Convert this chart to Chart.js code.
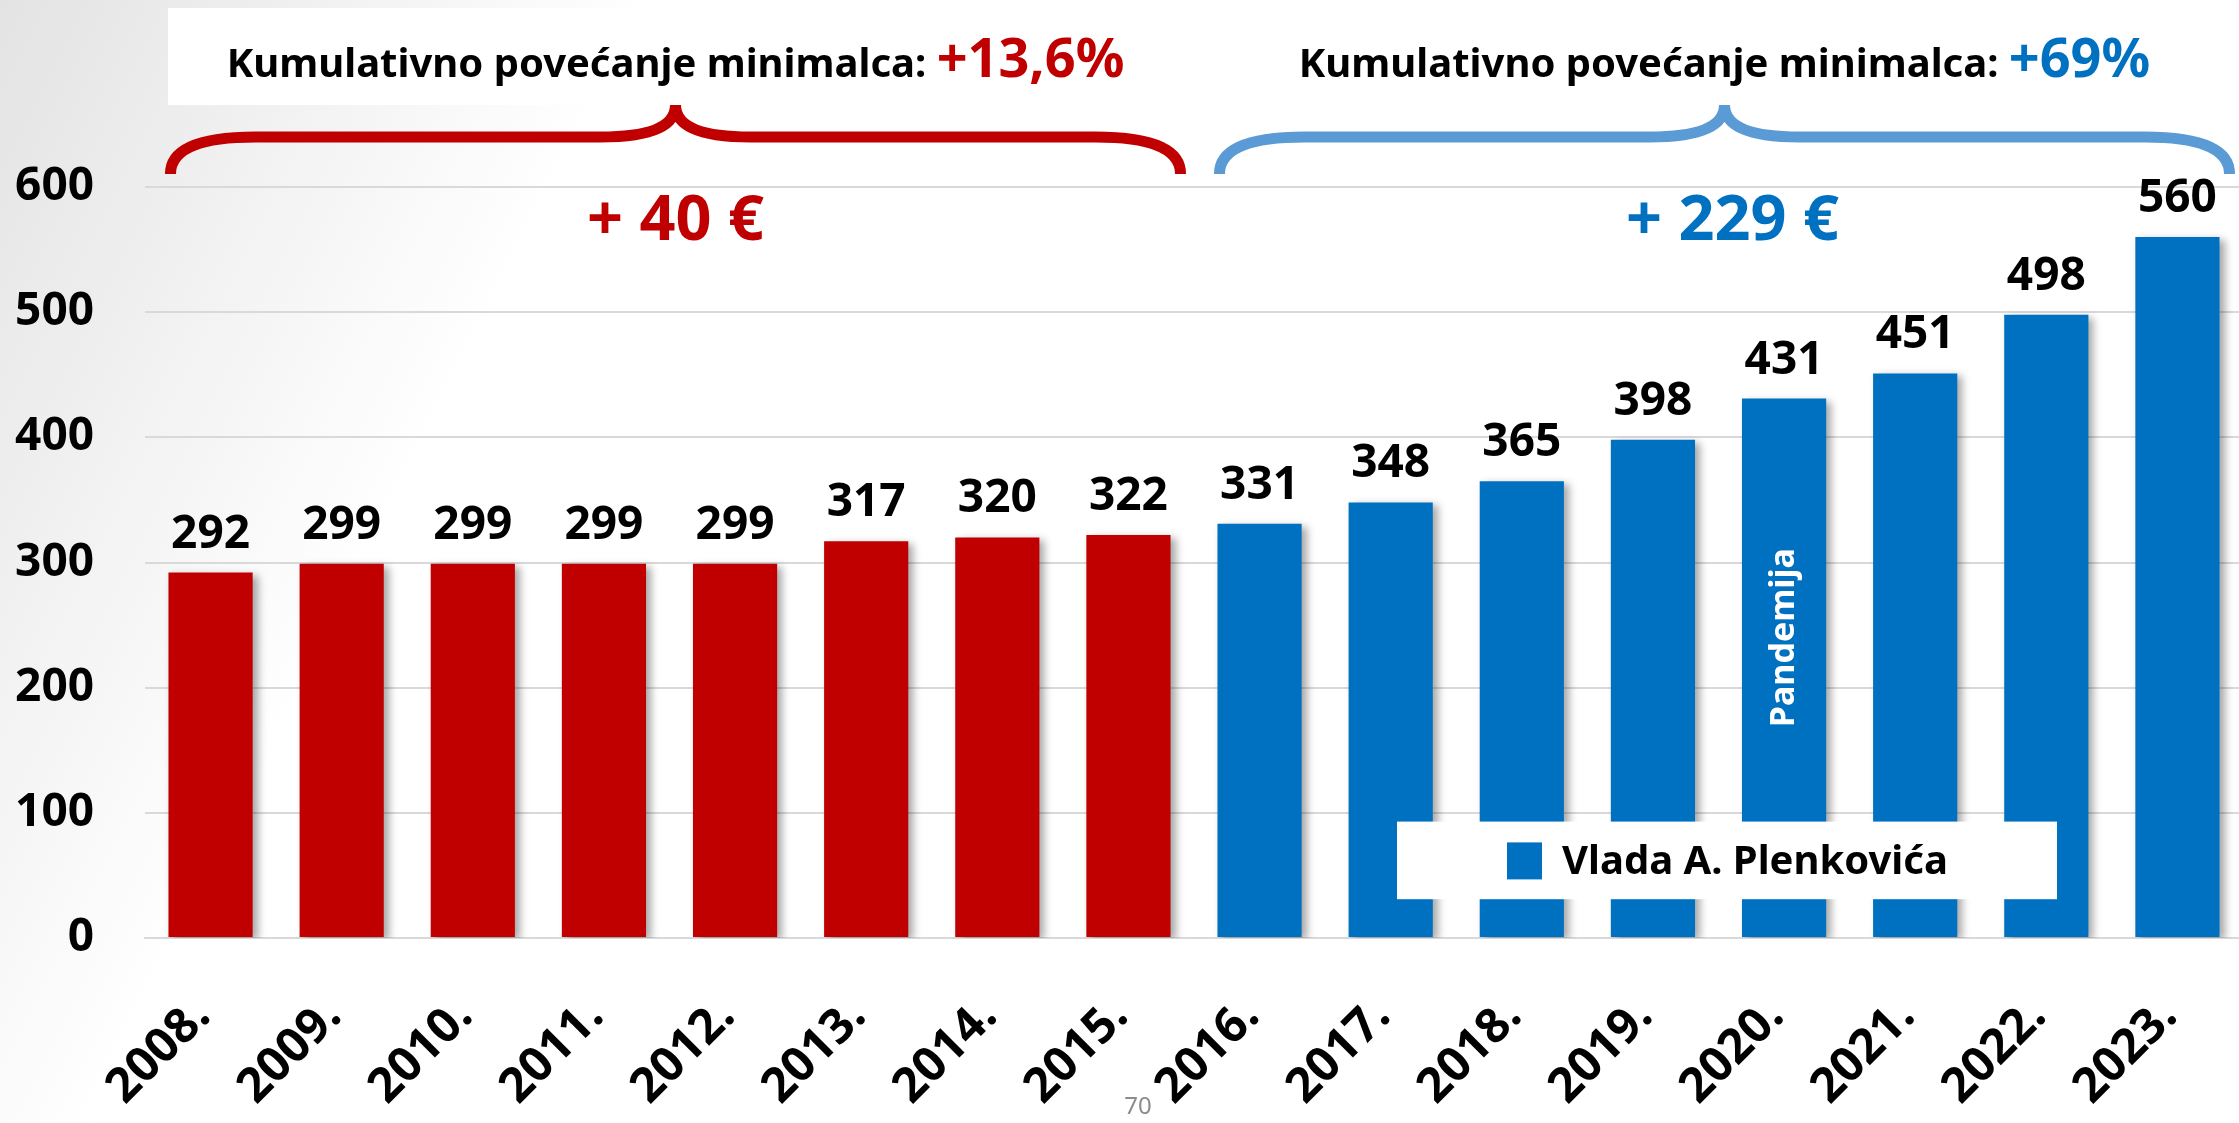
<!DOCTYPE html>
<html>
<head>
<meta charset="utf-8">
<script src="https://cdn.jsdelivr.net/npm/chart.js@4.4.1/dist/chart.umd.min.js"></script>
<style>
    html, body { margin: 0; padding: 0; background: #fff; overflow: hidden; }
    #wrap { position: relative; width: 2239px; height: 1123px; overflow: hidden; }
</style>
</head>
<body>
<div id="wrap"><canvas id="chart-wage"></canvas></div>
<script>
// minimum wage (EUR) by year
const years = ['2008.', '2009.', '2010.', '2011.', '2012.', '2013.', '2014.', '2015.',
               '2016.', '2017.', '2018.', '2019.', '2020.', '2021.', '2022.', '2023.'];
const wages = [292, 299, 299, 299, 299, 317, 320, 322, 331, 348, 365, 398, 431, 451, 498, 560];

// two periods: before and during the Plenković government
const periodStart = [0, 8];
const periodEnd = [7, 15];
const periodTitle = ['Kumulativno povećanje minimalca: ', 'Kumulativno povećanje minimalca: '];
const periodPct = ['+13,6%', '+69%'];
const periodGain = ['+ 40 €', '+ 229 €'];

const legendLabel = 'Vlada A. Plenkovića';
const noteYear = '2020.';
const noteText = 'Pandemija';
const pageNo = '70';

const RED = '#c00000';
const BLUE = '#0070c0';
const BRACE = ['#c00000', '#5b9bd5'];
const TITLE_COL = ['#c00000', '#0070c0'];
const FONT = '"Noto Sans", "DejaVu Sans", sans-serif';

const barColor = i => (i >= periodStart[1] ? BLUE : RED);

function drawBrace(ctx, x0, x1, cx, yEnd, yBar, yTip, color) {
    ctx.save();
    ctx.strokeStyle = color;
    ctx.lineWidth = 11;
    ctx.lineCap = 'butt';
    ctx.beginPath();
    ctx.moveTo(x0, yEnd);
    ctx.quadraticCurveTo(x0, yBar, x0 + 85, yBar);
    ctx.lineTo(cx - 75, yBar);
    ctx.quadraticCurveTo(cx, yBar, cx, yTip);
    ctx.quadraticCurveTo(cx, yBar, cx + 75, yBar);
    ctx.lineTo(x1 - 85, yBar);
    ctx.quadraticCurveTo(x1, yBar, x1, yEnd);
    ctx.stroke();
    ctx.restore();
}

const decor = {
    id: 'decor',
    beforeDraw(chart) {
        const { ctx, width, height } = chart;
        ctx.save();
        const g = ctx.createLinearGradient(0, 0, 520, 260);
        g.addColorStop(0, '#e3e3e3');
        g.addColorStop(1, '#ffffff');
        ctx.fillStyle = g;
        ctx.fillRect(0, 0, width, height);
        // white box behind the left title
        ctx.fillStyle = '#ffffff';
        ctx.fillRect(168, 8, 1022, 97);
        ctx.restore();
    },
    beforeDatasetsDraw(chart) {
        const ctx = chart.ctx;
        ctx.save();
        ctx.shadowColor = 'rgba(0,0,0,0.35)';
        ctx.shadowBlur = 8;
        ctx.shadowOffsetX = 5;
        ctx.shadowOffsetY = 3;
    },
    afterDatasetsDraw(chart) {
        const ctx = chart.ctx;
        ctx.restore();
        const bars = chart.getDatasetMeta(0).data;
        ctx.save();
        ctx.fillStyle = '#000';
        ctx.font = 'bold 46px ' + FONT;
        ctx.textAlign = 'center';
        ctx.textBaseline = 'alphabetic';
        bars.forEach((b, i) => ctx.fillText(String(wages[i]), b.x, b.y - 25));

        // note inside the 2020 bar
        const nb = bars[years.indexOf(noteYear)];
        ctx.translate(nb.x, chart.scales.y.getPixelForValue(240));
        ctx.rotate(-Math.PI / 2);
        ctx.fillStyle = '#fff';
        ctx.font = 'bold 34px ' + FONT;
        ctx.textBaseline = 'middle';
        ctx.fillText(noteText, 0, 0);
        ctx.restore();
    },
    afterDraw(chart) {
        const { ctx, chartArea } = chart;
        const bars = chart.getDatasetMeta(0).data;
        const top = chartArea.top;

        periodStart.forEach((s, p) => {
            const first = bars[s], last = bars[periodEnd[p]];
            const x0 = first.x - first.width / 2 + 2;
            const x1 = last.x + last.width / 2 + 10;
            const cx = (x0 + x1) / 2;
            drawBrace(ctx, x0, x1, cx, top - 13, top - 50, top - 82, BRACE[p]);

            ctx.save();
            ctx.textBaseline = 'alphabetic';
            ctx.textAlign = 'left';
            const fMain = 'bold 40px ' + FONT;
            const fPct = 'bold 54px ' + FONT;
            ctx.font = fMain;
            const w1 = ctx.measureText(periodTitle[p]).width;
            ctx.font = fPct;
            const w2 = ctx.measureText(periodPct[p]).width;
            let x = cx - (w1 + w2) / 2;
            ctx.font = fMain;
            ctx.fillStyle = '#000';
            ctx.fillText(periodTitle[p], x, top - 110);
            ctx.font = fPct;
            ctx.fillStyle = TITLE_COL[p];
            ctx.fillText(periodPct[p], x + w1, top - 110);

            ctx.textAlign = 'center';
            ctx.font = 'bold 63px ' + FONT;
            ctx.fillText(periodGain[p], cx + (p ? 8 : 0), top + 53);
            ctx.restore();
        });

        // legend box
        ctx.save();
        const y = chart.scales.y;
        const lx = 1397, lw = 660;
        const ly = y.getPixelForValue(93), lh = y.getPixelForValue(31) - ly;
        ctx.fillStyle = '#fff';
        ctx.fillRect(lx, ly, lw, lh);
        ctx.fillStyle = BLUE;
        ctx.fillRect(lx + 110, ly + lh / 2 - 18, 35, 37);
        ctx.fillStyle = '#000';
        ctx.font = 'bold 40px ' + FONT;
        ctx.textBaseline = 'middle';
        ctx.textAlign = 'left';
        ctx.fillText(legendLabel, lx + 165, ly + lh / 2 + 2);

        // page number
        ctx.fillStyle = '#8c8c8c';
        ctx.font = '24px "Liberation Sans Narrow", ' + FONT;
        ctx.textAlign = 'center';
        ctx.fillText(pageNo, 1138, 1107);
        ctx.restore();
    },
};

// the plot runs a few pixels past the right edge of the page
const canvas = document.getElementById('chart-wage');
canvas.width = 2243;
canvas.height = 1123;

new Chart(canvas.getContext('2d'), {
    type: 'bar',
    data: {
        labels: years,
        datasets: [{
            label: legendLabel,
            data: wages,
            backgroundColor: ctx => barColor(ctx.dataIndex),
            borderWidth: 0,
            categoryPercentage: 1,
            barPercentage: 0.642,
        }],
    },
    options: {
        responsive: false,
        animation: false,
        layout: { padding: { top: 187, right: 0, left: 0, bottom: 0 } },
        plugins: {
            legend: { display: false },
            tooltip: { enabled: false },
        },
        scales: {
            x: {
                afterFit(scale) {
                    scale.height = 185;
                    scale.paddingLeft = 0;
                    scale.paddingRight = 0;
                },
                grid: { display: false, drawTicks: false },
                border: { display: true, color: '#d9d9d9', width: 2 },
                ticks: {
                    autoSkip: false,
                    maxRotation: 45,
                    minRotation: 45,
                    padding: 50,
                    labelOffset: -8,
                    color: '#000',
                    font: { family: FONT, size: 48, weight: 'bold' },
                },
            },
            y: {
                min: 0,
                max: 600,
                afterFit(scale) { scale.width = 145; },
                grid: { color: '#d9d9d9', lineWidth: 2, drawTicks: false },
                border: { display: false },
                ticks: {
                    stepSize: 100,
                    padding: 51,
                    color: '#000',
                    font: { family: FONT, size: 46, weight: 'bold' },
                },
            },
        },
    },
    plugins: [decor],
});
</script>
</body>
</html>
